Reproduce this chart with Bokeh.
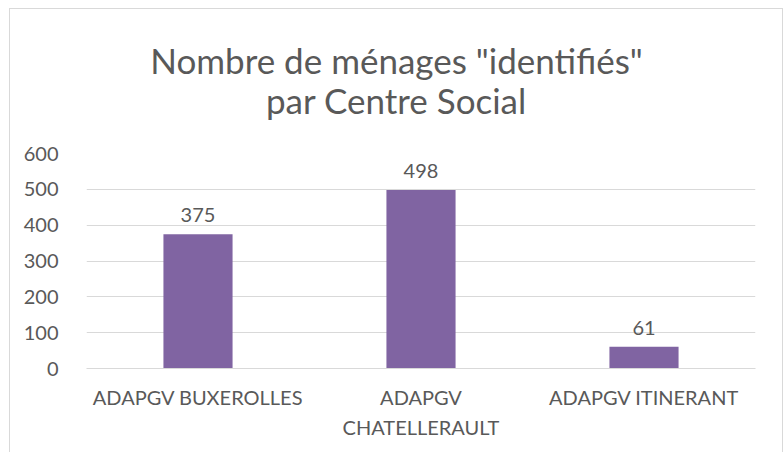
from bokeh.plotting import figure
from bokeh.layouts import column
from bokeh.models import ColumnDataSource, FixedTicker
from bokeh.core.properties import value
from bokeh.embed import file_html
from bokeh.resources import INLINE

categories = ["ADAPGV BUXEROLLES", "ADAPGV\nCHATELLERAULT", "ADAPGV ITINERANT"]
counts = [375, 498, 61]
y_ticks = [0, 100, 200, 300, 400, 500, 600]
title_lines = ['Nombre de ménages "identifiés"', "par Centre Social"]

FONT = "Lato"
TXT = "#595959"
GRID = "#d9d9d9"
BAR = "#8064a2"

# --- title panel (frame aligned with chart frame: 669 px wide) ---
tf = figure(width=772, height=130, x_range=(0, 669), y_range=(0, 130),
            x_axis_location=None, y_axis_location=None,
            output_backend="svg", toolbar_location=None,
            min_border_left=76, min_border_right=27, min_border_top=0, min_border_bottom=0,
            margin=0)
tf.grid.visible = False
tf.outline_line_color = None
tf.text(x=[310, 310], y=[80, 40], text=title_lines, text_align="center",
        text_baseline="middle", text_font=value(FONT), text_font_size="35px",
        text_color=TXT)

# --- chart ---
src = ColumnDataSource(dict(cat=categories, val=counts, lab=[str(v) for v in counts]))

p = figure(x_range=categories, y_range=(0, 600), width=772, height=313,
           output_backend="svg", toolbar_location=None,
           min_border_left=76, min_border_right=27, min_border_top=14, min_border_bottom=84,
           margin=0)
p.outline_line_color = None

p.vbar(x="cat", top="val", width=0.31, source=src, fill_color=BAR, line_color=None)
p.text(x="cat", y="val", text="lab", source=src, text_align="center",
       text_baseline="alphabetic", y_offset=-19, text_font=value(FONT),
       text_font_size="20px", text_color=TXT)

p.xgrid.grid_line_color = None
p.ygrid.grid_line_color = GRID
p.ygrid.grid_line_width = 1
p.yaxis.ticker = FixedTicker(ticks=y_ticks)
p.yaxis.axis_line_color = None
p.yaxis.major_tick_line_color = None
p.yaxis.minor_tick_line_color = None
p.yaxis.major_label_standoff = 22
p.yaxis.major_label_text_font = FONT
p.yaxis.major_label_text_font_size = "20px"
p.yaxis.major_label_text_color = TXT

p.xaxis.axis_line_color = GRID
p.xaxis.axis_line_width = 1
p.xaxis.major_tick_line_color = None
p.xaxis.minor_tick_line_color = None
p.xaxis.major_label_standoff = 10
p.xaxis.major_label_text_font = FONT
p.xaxis.major_label_text_font_size = "20px"
p.xaxis.major_label_text_color = TXT
p.xaxis.major_label_text_line_height = 1.27

layout = column(tf, p, spacing=0, margin=(8, 0, 0, 9),
                styles={"border-left": "1px solid #d9d9d9", "border-top": "1px solid #d9d9d9",
                        "border-right": "1px solid #d9d9d9"})

open("out.html", "w").write(file_html(layout, INLINE))
